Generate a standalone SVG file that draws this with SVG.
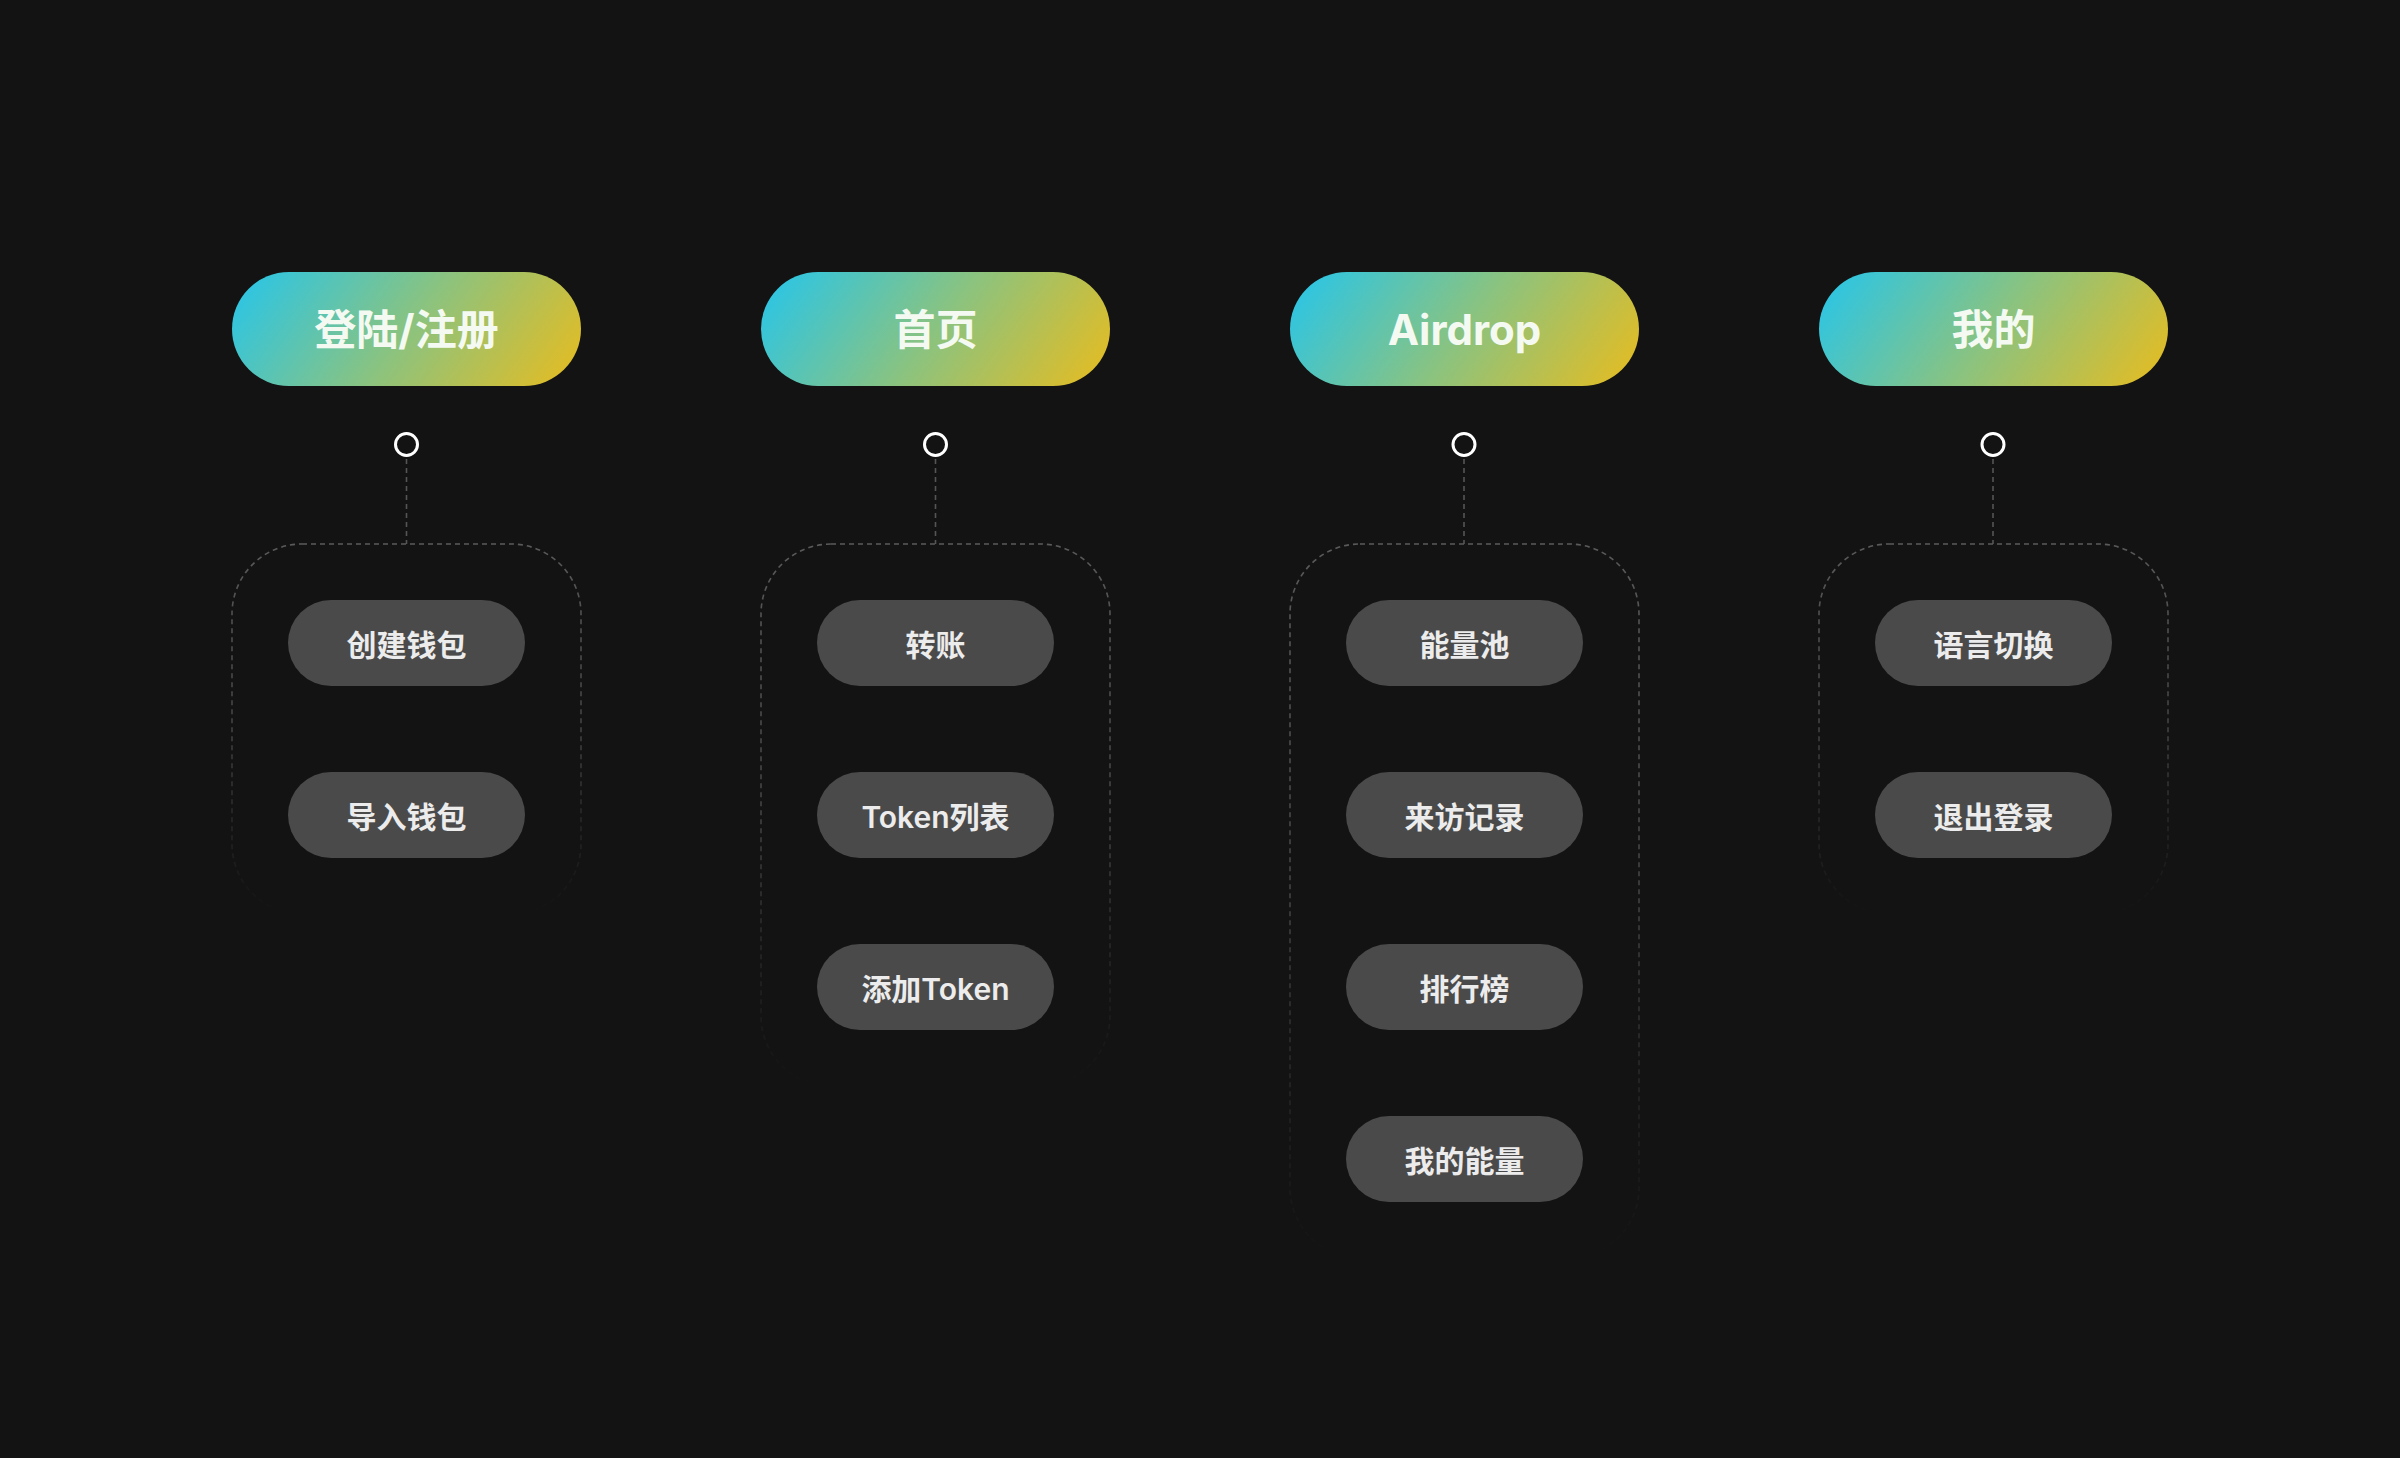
<svg xmlns="http://www.w3.org/2000/svg" width="2400" height="1458" viewBox="0 0 2400 1458">
<defs>
<linearGradient id="hg" x1="0" y1="0.38" x2="1" y2="0.62">
<stop offset="0" stop-color="#33c5dd"/>
<stop offset="0.5" stop-color="#8ac380"/>
<stop offset="1" stop-color="#dbbd2c"/>
</linearGradient>
<linearGradient id="fade" x1="0" y1="0" x2="0" y2="1">
<stop offset="0" stop-color="#5a5a5a" stop-opacity="1"/>
<stop offset="0.5" stop-color="#4a4a4a" stop-opacity="0.85"/>
<stop offset="1" stop-color="#3a3a3a" stop-opacity="0"/>
</linearGradient>
<style>
.hdr{fill:url(#hg)}
.htxt{font-family:Inter,"Noto Sans CJK SC",sans-serif;font-size:42px;font-weight:700;fill:#f4faf2;text-anchor:middle;dominant-baseline:central}
.pill{fill:#4a4a4a}
.ptxt{font-family:Inter,"Noto Sans CJK SC",sans-serif;font-size:30px;font-weight:600;fill:#ececec;text-anchor:middle;dominant-baseline:central}
.box{fill:none;stroke:url(#fade);stroke-width:1.6;stroke-dasharray:5 4}
.dot{fill:#131313;stroke:#ffffff;stroke-width:3}
.link{stroke:#555555;stroke-width:1.6;stroke-dasharray:5 4;fill:none}
</style>
</defs>
<rect width="2400" height="1458" fill="#131313"/>
<g id="connectors">
<line class="link" x1="406.5" y1="459" x2="406.5" y2="544"/>
<line class="link" x1="935.5" y1="459" x2="935.5" y2="544"/>
<line class="link" x1="1464" y1="459" x2="1464" y2="544"/>
<line class="link" x1="1993" y1="459" x2="1993" y2="544"/>
</g>
<g id="col1">
<g id="h1"><rect class="hdr" x="232" y="272" width="349" height="114" rx="57"/><text class="htxt" x="406.5" y="329">登陆/注册</text></g>
<circle class="dot" cx="406.5" cy="444.5" r="11"/>
<rect class="box" x="232" y="544" width="349" height="370" rx="70"/>
<g id="c1a"><rect class="pill" x="288" y="600" width="237" height="86" rx="43"/><text class="ptxt" x="406.5" y="644.5">创建钱包</text></g>
<g id="c1b"><rect class="pill" x="288" y="772" width="237" height="86" rx="43"/><text class="ptxt" x="406.5" y="816.5">导入钱包</text></g>
</g>
<g id="col2">
<g id="h2"><rect class="hdr" x="761" y="272" width="349" height="114" rx="57"/><text class="htxt" x="935.5" y="329">首页</text></g>
<circle class="dot" cx="935.5" cy="444.5" r="11"/>
<rect class="box" x="761" y="544" width="349" height="542" rx="70"/>
<g id="c2a"><rect class="pill" x="817" y="600" width="237" height="86" rx="43"/><text class="ptxt" x="935.5" y="644.5">转账</text></g>
<g id="c2b"><rect class="pill" x="817" y="772" width="237" height="86" rx="43"/><text class="ptxt" x="935.5" y="816.5">Token列表</text></g>
<g id="c2c"><rect class="pill" x="817" y="944" width="237" height="86" rx="43"/><text class="ptxt" x="935.5" y="988.5">添加Token</text></g>
</g>
<g id="col3">
<g id="h3"><rect class="hdr" x="1290" y="272" width="349" height="114" rx="57"/><text class="htxt" x="1464.5" y="329">Airdrop</text></g>
<circle class="dot" cx="1464" cy="444.5" r="11"/>
<rect class="box" x="1290" y="544" width="349" height="714" rx="70"/>
<g id="c3a"><rect class="pill" x="1346" y="600" width="237" height="86" rx="43"/><text class="ptxt" x="1464.5" y="644.5">能量池</text></g>
<g id="c3b"><rect class="pill" x="1346" y="772" width="237" height="86" rx="43"/><text class="ptxt" x="1464.5" y="816.5">来访记录</text></g>
<g id="c3c"><rect class="pill" x="1346" y="944" width="237" height="86" rx="43"/><text class="ptxt" x="1464.5" y="988.5">排行榜</text></g>
<g id="c3d"><rect class="pill" x="1346" y="1116" width="237" height="86" rx="43"/><text class="ptxt" x="1464.5" y="1160.5">我的能量</text></g>
</g>
<g id="col4">
<g id="h4"><rect class="hdr" x="1819" y="272" width="349" height="114" rx="57"/><text class="htxt" x="1993.5" y="329">我的</text></g>
<circle class="dot" cx="1993" cy="444.5" r="11"/>
<rect class="box" x="1819" y="544" width="349" height="370" rx="70"/>
<g id="c4a"><rect class="pill" x="1875" y="600" width="237" height="86" rx="43"/><text class="ptxt" x="1993.5" y="644.5">语言切换</text></g>
<g id="c4b"><rect class="pill" x="1875" y="772" width="237" height="86" rx="43"/><text class="ptxt" x="1993.5" y="816.5">退出登录</text></g>
</g>
</svg>
